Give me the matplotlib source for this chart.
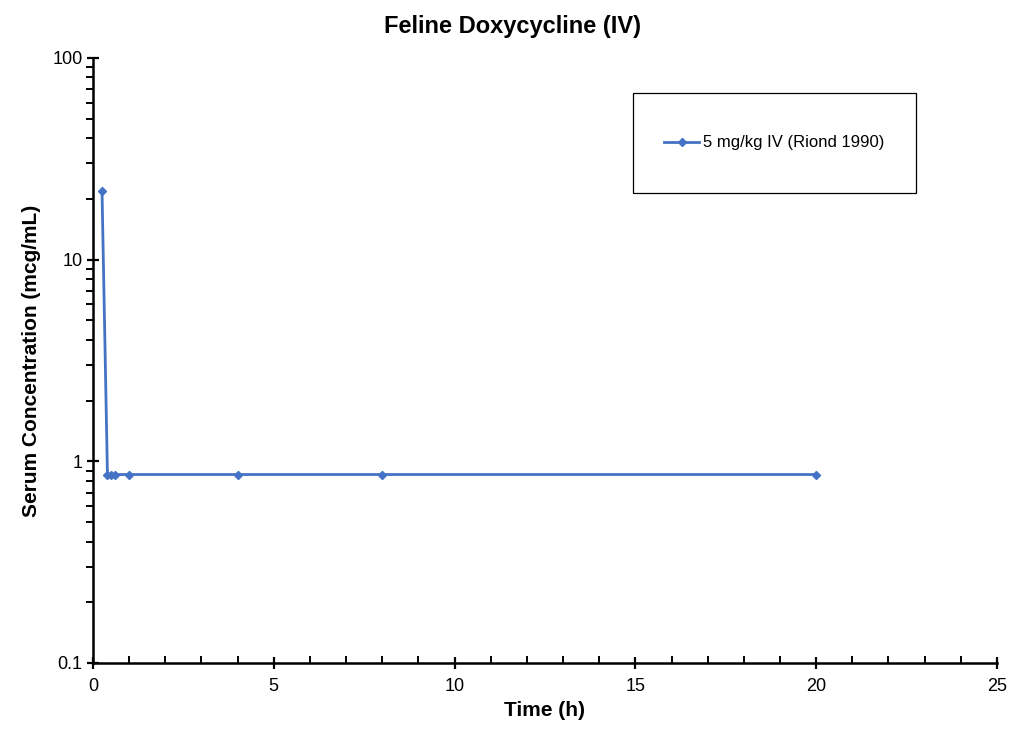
import matplotlib
matplotlib.use("Agg")
import matplotlib.pyplot as plt
from matplotlib.patches import Rectangle
from matplotlib.ticker import FixedLocator, LogLocator, NullFormatter, MultipleLocator

plt.rcParams['font.family'] = ['Liberation Sans', 'DejaVu Sans']

time_h = [0.25, 0.4, 0.5, 0.6, 1.0, 4.0, 8.0, 20.0]
conc = [21.9, 0.86, 0.86, 0.86, 0.86, 0.86, 0.86, 0.86]
series_label = "5 mg/kg IV (Riond 1990)"
title = "Feline Doxycycline (IV)"
xlabel = "Time (h)"
ylabel = "Serum Concentration (mcg/mL)"
x_ticks = [0, 5, 10, 15, 20, 25]
y_ticks = [0.1, 1, 10, 100]
y_ticklabels = ["0.1", "1", "10", "100"]

fig = plt.figure(figsize=(10.24, 7.43), dpi=100)
ax = fig.add_axes([0.0908, 0.1077, 0.8828, 0.8143])

ax.plot(time_h, conc, color='#4472C4', linewidth=2, marker='D', markersize=4,
        label=series_label)

ax.set_yscale('log')
ax.set_ylim(0.1, 100)
ax.set_xlim(0, 25)
ax.yaxis.set_major_locator(FixedLocator(y_ticks))
ax.set_yticklabels(y_ticklabels)
ax.yaxis.set_minor_locator(LogLocator(base=10, subs=range(2, 10)))
ax.yaxis.set_minor_formatter(NullFormatter())
ax.set_xticks(x_ticks)
ax.xaxis.set_minor_locator(MultipleLocator(1))

for s in ['top', 'right']:
    ax.spines[s].set_visible(False)
for s in ['left', 'bottom']:
    ax.spines[s].set_linewidth(1.8)
    ax.spines[s].set_color('black')

ax.tick_params(axis='both', which='major', direction='inout', length=9, width=1.6,
               labelsize=13)
ax.tick_params(axis='x', which='major', pad=6)
ax.tick_params(axis='y', which='major', pad=3)
ax.tick_params(axis='y', which='minor', direction='out', length=5, width=1.4)
ax.tick_params(axis='x', which='minor', direction='in', length=5, width=1.4)

fig.text(0.5, 1 - 27 / 743, title, fontsize=17, fontweight='bold',
         ha='center', va='center')
ax.set_xlabel(xlabel, fontsize=15, fontweight='bold')
ax.set_ylabel(ylabel, fontsize=15, fontweight='bold')
ax.xaxis.set_label_coords(0.5, -(711 - 663) / 605)
ax.yaxis.set_label_coords((32 - 93) / 904, 0.5)
ax.xaxis.label.set_va('center')
ax.yaxis.label.set_va('center')

rx0, ry0, rw, rh = 0.597, 0.777, 0.313, 0.165
ax.add_patch(Rectangle((rx0, ry0), rw, rh, transform=ax.transAxes, fill=False,
                       edgecolor='black', linewidth=0.9, zorder=5))
ax.legend(loc='center', bbox_to_anchor=(rx0 + rw / 2, ry0 + rh / 2),
          bbox_transform=ax.transAxes, frameon=False, fontsize=12,
          handlelength=2.1, handletextpad=0.2)

fig.savefig('out.png', dpi=100)
